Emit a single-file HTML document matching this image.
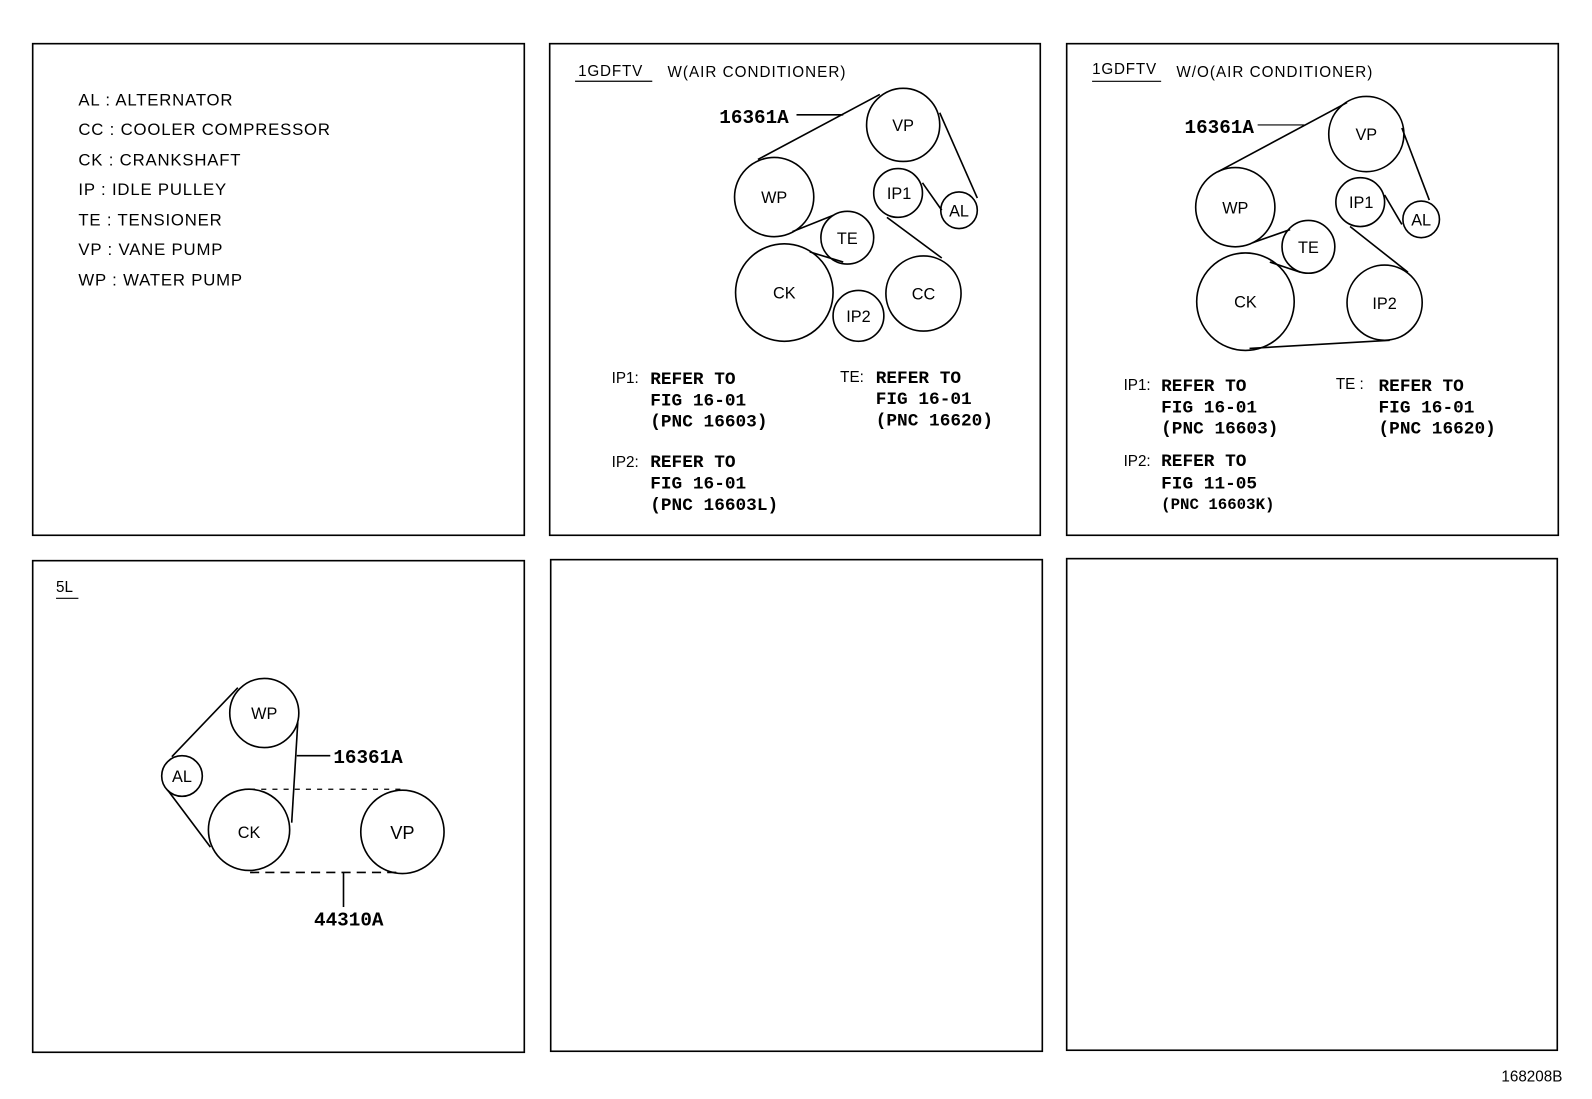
<!DOCTYPE html>
<html><head><meta charset="utf-8"><style>
html,body{margin:0;padding:0;background:#fff}
svg{display:block}
text{font-family:"Liberation Sans",sans-serif;fill:#000}
text.b,.b text{font-family:"Liberation Mono",monospace;font-weight:bold}
</style></head><body>
<svg width="1592" height="1099" viewBox="0 0 1567 1082" xmlns="http://www.w3.org/2000/svg">
<g fill="none" stroke="#000" stroke-width="1.6">
<rect x="32" y="43" width="484" height="484"/>
<rect x="541" y="43" width="483" height="484"/>
<rect x="1050" y="43" width="484" height="484"/>
<rect x="32" y="552" width="484" height="484"/>
<rect x="542" y="551" width="484" height="484"/>
<rect x="1050" y="550" width="483" height="484"/>
</g>
<g font-size="16.5" letter-spacing="0.8">
<text x="77" y="104">AL : ALTERNATOR</text>
<text x="77" y="133">CC : COOLER COMPRESSOR</text>
<text x="77" y="163">CK : CRANKSHAFT</text>
<text x="77" y="192">IP : IDLE PULLEY</text>
<text x="77" y="222">TE : TENSIONER</text>
<text x="77" y="251">VP : VANE PUMP</text>
<text x="77" y="281">WP : WATER PUMP</text>
</g>
<!-- panel 2 -->
<text x="569" y="75" font-size="15" letter-spacing="0.8">1GDFTV</text>
<line x1="566" y1="80" x2="642" y2="80" stroke="#000" stroke-width="1.3"/>
<text x="657" y="76" font-size="15" letter-spacing="1">W(AIR CONDITIONER)</text>
<g fill="none" stroke="#000" stroke-width="1.6">
<circle cx="889" cy="123" r="36"/><circle cx="762" cy="194" r="39"/>
<circle cx="884" cy="190" r="24"/><circle cx="944" cy="207" r="18"/>
<circle cx="834" cy="234" r="26"/><circle cx="772" cy="288" r="48"/>
<circle cx="845" cy="311" r="25"/><circle cx="909" cy="289" r="37"/>
<line x1="866" y1="93" x2="746" y2="157"/><line x1="784" y1="113" x2="830" y2="113"/>
<line x1="925" y1="111" x2="962" y2="195"/><line x1="908" y1="180" x2="927" y2="207"/>
<line x1="873" y1="214" x2="927" y2="254"/><line x1="780" y1="228" x2="820" y2="212"/>
<line x1="797" y1="248" x2="830" y2="258"/>
</g>
<g font-size="16" text-anchor="middle">
<text x="889" y="129">VP</text><text x="762" y="200">WP</text><text x="885" y="196">IP1</text>
<text x="944" y="213">AL</text><text x="834" y="240">TE</text><text x="772" y="294">CK</text>
<text x="845" y="317">IP2</text><text x="909" y="295">CC</text>
</g>
<text x="708" y="121" class="b" font-size="19">16361A</text>
<g font-size="15"><text x="602" y="377">IP1:</text><text x="602" y="460">IP2:</text><text x="827" y="376">TE:</text></g>
<g class="b" font-size="17.5">
<text x="640" y="378">REFER TO</text><text x="640" y="399">FIG 16-01</text><text x="640" y="420">(PNC 16603)</text>
<text x="640" y="460">REFER TO</text><text x="640" y="481">FIG 16-01</text><text x="640" y="502">(PNC 16603L)</text>
<text x="862" y="377">REFER TO</text><text x="862" y="398">FIG 16-01</text><text x="862" y="419">(PNC 16620)</text>
</g>
<!-- panel 3 -->
<text x="1075" y="73" font-size="15" letter-spacing="0.8">1GDFTV</text>
<line x1="1075" y1="80" x2="1143" y2="80" stroke="#000" stroke-width="1.1"/>
<text x="1158" y="76" font-size="15" letter-spacing="1">W/O(AIR CONDITIONER)</text>
<g fill="none" stroke="#000" stroke-width="1.6">
<circle cx="1345" cy="132" r="37"/><circle cx="1216" cy="204" r="39"/>
<circle cx="1339" cy="199" r="24"/><circle cx="1399" cy="216" r="18"/>
<circle cx="1288" cy="243" r="26"/><circle cx="1226" cy="297" r="48"/>
<circle cx="1363" cy="298" r="37"/>
<line x1="1326" y1="101" x2="1199" y2="169"/><line x1="1238" y1="123" x2="1284" y2="123" stroke-width="1.1"/>
<line x1="1380" y1="126" x2="1407" y2="197"/><line x1="1363" y1="192" x2="1380" y2="221"/>
<line x1="1329" y1="223" x2="1386" y2="268"/><line x1="1233" y1="239" x2="1270" y2="226"/>
<line x1="1250" y1="258" x2="1280" y2="268"/><line x1="1230" y1="343" x2="1368" y2="335"/>
</g>
<g font-size="16" text-anchor="middle">
<text x="1345" y="138">VP</text><text x="1216" y="210">WP</text><text x="1340" y="205">IP1</text>
<text x="1399" y="222">AL</text><text x="1288" y="249">TE</text><text x="1226" y="303">CK</text>
<text x="1363" y="304">IP2</text>
</g>
<text x="1166" y="131" class="b" font-size="19">16361A</text>
<g font-size="15"><text x="1106" y="384">IP1:</text><text x="1106" y="459">IP2:</text><text x="1315" y="383">TE :</text></g>
<g class="b" font-size="17.5">
<text x="1143" y="385">REFER TO</text><text x="1143" y="406">FIG 16-01</text><text x="1143" y="427">(PNC 16603)</text>
<text x="1143" y="459">REFER TO</text><text x="1143" y="481">FIG 11-05</text><text x="1143" y="501" font-size="15.5">(PNC 16603K)</text>
<text x="1357" y="385">REFER TO</text><text x="1357" y="406">FIG 16-01</text><text x="1357" y="427">(PNC 16620)</text>
</g>
<!-- panel 4 -->
<text x="55" y="583" font-size="15">5L</text>
<line x1="55" y1="589" x2="77" y2="589" stroke="#000" stroke-width="1.1"/>
<g fill="none" stroke="#000" stroke-width="1.6">
<circle cx="260" cy="702" r="34"/><circle cx="179" cy="764" r="20"/>
<circle cx="245" cy="817" r="40"/><circle cx="396" cy="819" r="41"/>
<line x1="234" y1="677" x2="169" y2="745"/><line x1="165" y1="778" x2="207" y2="834"/>
<line x1="293" y1="711" x2="287" y2="810"/><line x1="292" y1="744" x2="325" y2="744"/>
<line x1="246" y1="777" x2="394" y2="777" stroke-dasharray="5 6" stroke-width="1.2"/>
<line x1="246" y1="859" x2="394" y2="859" stroke-dasharray="9 6"/>
<line x1="338" y1="859" x2="338" y2="893"/>
</g>
<g font-size="16" text-anchor="middle">
<text x="260" y="708">WP</text><text x="179" y="770">AL</text>
<text x="245" y="825">CK</text><text x="396" y="826" font-size="18">VP</text>
</g>
<text x="328" y="751" class="b" font-size="19">16361A</text>
<text x="309" y="911" class="b" font-size="19">44310A</text>
<text x="1478" y="1065" font-size="15">168208B</text>
</svg>
</body></html>
